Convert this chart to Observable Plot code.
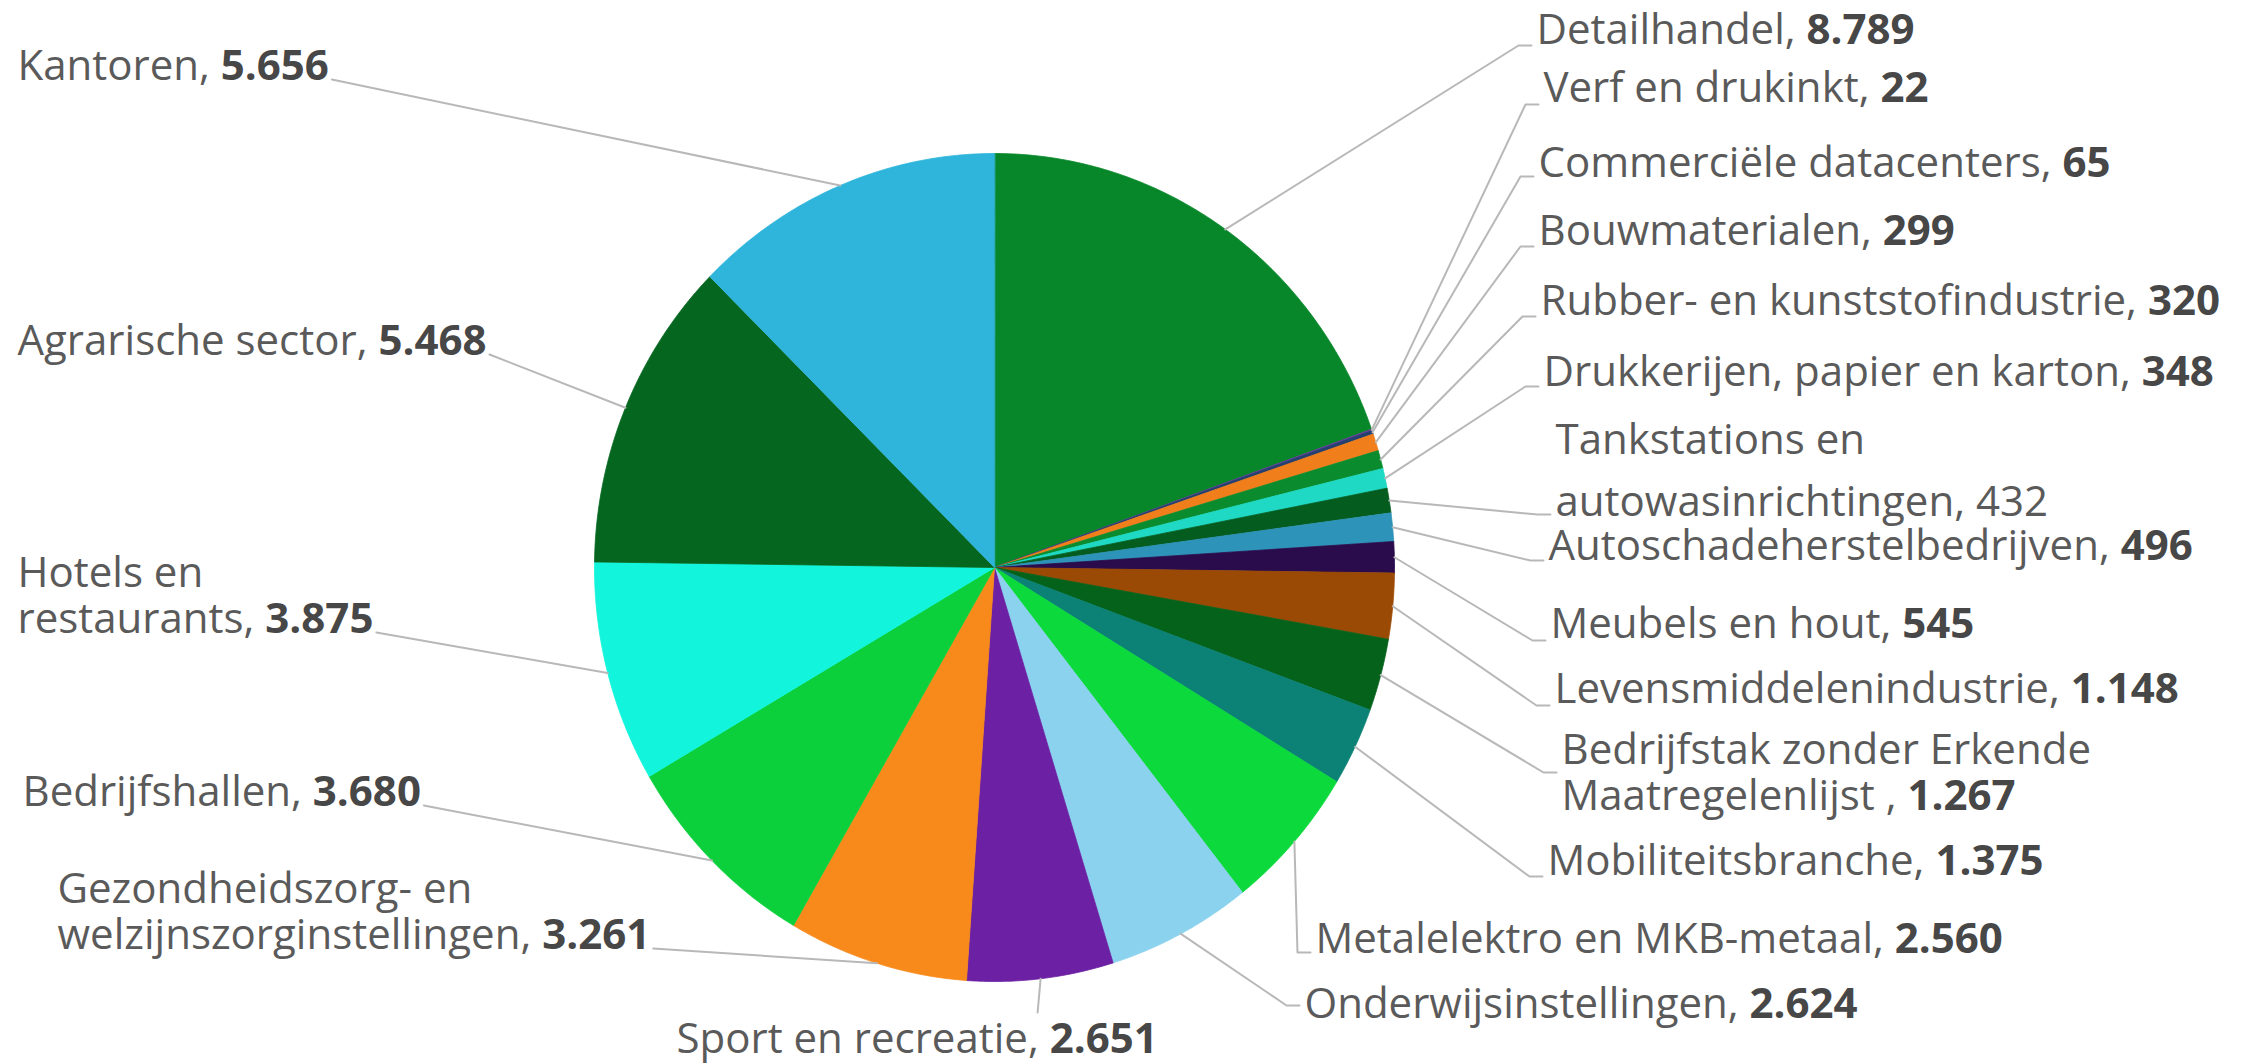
<!DOCTYPE html>
<html><head><meta charset="utf-8">
<script src="https://cdn.jsdelivr.net/npm/d3@7"></script>
<script src="https://cdn.jsdelivr.net/npm/@observablehq/plot@0.6"></script>
<style>html,body{margin:0;padding:0;background:#fff}svg{display:block}</style>
</head><body><div id="chart"></div>
<script>
// ---------- data ----------
const categories = [
  "Detailhandel", "Verf en drukinkt", "Commerciële datacenters", "Bouwmaterialen",
  "Rubber- en kunststofindustrie", "Drukkerijen, papier en karton",
  "Tankstations en\nautowasinrichtingen", "Autoschadeherstelbedrijven", "Meubels en hout",
  "Levensmiddelenindustrie", "Bedrijfstak zonder Erkende\nMaatregelenlijst ", "Mobiliteitsbranche",
  "Metalelektro en MKB-metaal", "Onderwijsinstellingen", "Sport en recreatie",
  "Gezondheidszorg- en\nwelzijnszorginstellingen", "Bedrijfshallen", "Hotels en\nrestaurants",
  "Agrarische sector", "Kantoren"
];
const values = [8789, 22, 65, 299, 320, 348, 432, 496, 545, 1148, 1267, 1375, 2560, 2624, 2651, 3261, 3680, 3875, 5468, 5656];
const boldValue = [true, true, true, true, true, true, false, true, true, true, true, true, true, true, true, true, true, true, true, true];
const colors = [
  "#08872a", "#6a3aa0", "#23406e", "#f07f1b", "#0a8c2e", "#1fd9c4", "#045c1e", "#2e93b8",
  "#2a0b4c", "#9a4a05", "#05621b", "#0b8275", "#0bd93c", "#8bd2ee", "#6c20a3", "#f88a1c",
  "#0bd03c", "#12f5dc", "#05671f", "#2fb5db"
];

// ---------- layout (pixels) ----------
const W = 2246, H = 1064;
const CX = 994, CY = 567, RX = 400, RY = 414;
const FS = 42;
const labelSide = ["r","r","r","r","r","r","r","r","r","r","r","r","r","r","b","l","l","l","l","l"];
const labelX = [1536, 1543, 1538, 1538, 1540, 1543, 1555, 1548, 1550, 1554, 1561, 1547, 1315, 1304, 676, 57, 22, 17, 17, 17];
const labelY = [29, 87, 162, 230, 300, 371, 434, 545, 623, 688, 749, 860, 938, 1003, 1038, 888, 791, 572, 340, 65];
const lineGap = [46, 46, 46, 46, 46, 46, 62, 46, 46, 46, 46, 46, 46, 46, 46, 46, 46, 46, 46, 46];
const tickY = [45, 104, 176, 246, 316, 386, 514, 560, 640, 705, 772, 876, 952, 1005, 1012, 0, 0, 0, 0, 0];

const nl = d3.formatLocale({decimal: ",", thousands: ".", grouping: [3], currency: ["€", ""]});
const fmt = nl.format(",d");

// text measurement (for the end of the left-hand leader lines)
const ctx = document.createElement("canvas").getContext("2d");
function textWidth(name, val, bold) {
  ctx.font = `400 ${FS}px "Open Sans"`;
  let w = ctx.measureText(name).width;
  ctx.font = `${bold ? 700 : 400} ${FS}px "Open Sans"`;
  return w + ctx.measureText(val).width;
}

const arcs = d3.pie().sort(null).value(d => d)(values);

const slicePts = [];
arcs.forEach((a, i) => {
  slicePts.push({id: i, px: CX, py: CY, color: colors[i]});
  const n = Math.max(2, Math.ceil((a.endAngle - a.startAngle) / (Math.PI / 360)));
  for (let k = 0; k <= n; k++) {
    const t = a.startAngle + (a.endAngle - a.startAngle) * k / n;
    slicePts.push({id: i, px: CX + RX * Math.sin(t), py: CY - RY * Math.cos(t), color: colors[i]});
  }
});

const labels = categories.map((c, i) => {
  const full = c + ", " + fmt(values[i]);
  const lines = full.split("\n");
  const n = lines.length;
  return {i, text: full, x: labelX[i], y: labelY[i] + (n - 1) * lineGap[i] / 2,
          lastY: labelY[i] + (n - 1) * lineGap[i], lines, gap: lineGap[i]};
});

const leaderPts = [];
arcs.forEach((a, i) => {
  const m = (a.startAngle + a.endAngle) / 2;
  leaderPts.push({id: i, px: CX + RX * Math.sin(m), py: CY - RY * Math.cos(m)});
  const L = labels[i], side = labelSide[i];
  if (side === "r") {
    leaderPts.push({id: i, px: L.x - 18, py: tickY[i]});
    leaderPts.push({id: i, px: L.x - 5, py: tickY[i]});
  } else if (side === "b") {
    leaderPts.push({id: i, px: CX + RX * Math.sin(m) - 3, py: tickY[i]});
  } else {
    const last = L.lines[L.lines.length - 1];
    const k = last.lastIndexOf(", ");
    const w = textWidth(last.slice(0, k + 2), last.slice(k + 2), boldValue[i]);
    leaderPts.push({id: i, px: L.x + w + 3, py: L.lastY + 14});
  }
});

const gaps = [...new Set(lineGap)];
const textMarks = gaps.map(g => Plot.text(labels.filter(d => d.gap === g), {
  x: "x", y: "y", text: "text", textAnchor: "start", fontSize: FS, lineHeight: g / FS,
  fontFamily: "Open Sans", fill: "#5a5a5a"
}));

const chart = Plot.plot({
  width: W, height: H, margin: 0,
  style: {background: "#fff", overflow: "visible"},
  x: {domain: [0, W], range: [0, W], axis: null},
  y: {domain: [0, H], range: [0, H], axis: null},
  color: {type: "identity"},
  marks: [
    Plot.line(slicePts, {x: "px", y: "py", z: "id", fill: "color", stroke: "color", strokeWidth: 0.8, curve: "linear-closed"}),
    Plot.line(leaderPts, {x: "px", y: "py", z: "id", stroke: "#b8b8b8", strokeWidth: 2}),
    ...textMarks
  ]
});

// make the values bold (split the last ", value" into a bold tspan)
chart.querySelectorAll('g[aria-label="text"] text').forEach(el => {
  const spans = el.querySelectorAll("tspan");
  const target = spans.length ? spans[spans.length - 1] : el;
  const s = target.textContent;
  const k = s.lastIndexOf(", ");
  if (k < 0) return;
  const val = s.slice(k + 2);
  const lab = labels.find(d => d.text.endsWith(s));
  if (lab && !boldValue[lab.i]) return;
  target.textContent = "";
  target.appendChild(document.createTextNode(s.slice(0, k + 2)));
  const ts = document.createElementNS("http://www.w3.org/2000/svg", "tspan");
  ts.setAttribute("font-weight", "700");
  ts.setAttribute("fill", "#474747");
  ts.textContent = val;
  target.appendChild(ts);
});

document.getElementById("chart").appendChild(chart);
</script>
</body></html>
